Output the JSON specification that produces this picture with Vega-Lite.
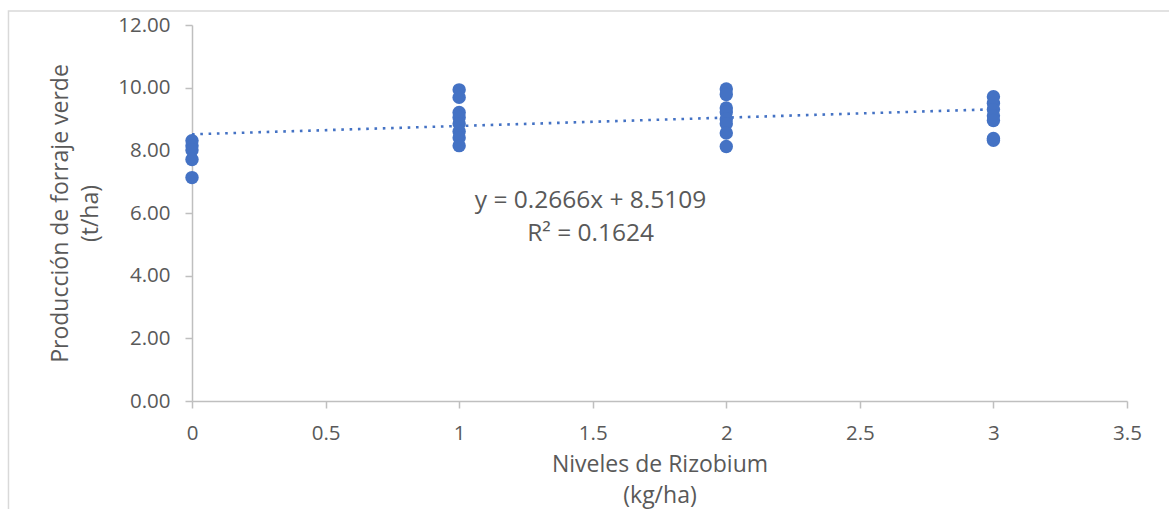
{
  "$schema": "https://vega.github.io/schema/vega-lite/v6.json",
  "width": 935,
  "height": 376,
  "autosize": "none",
  "padding": {"left": 192, "top": 25, "right": 42, "bottom": 108},
  "background": "white",
  "config": {"view": {"stroke": null}, "font": "Open Sans"},
  "datasets": {
    "pts": [
      {"nivel": 0, "prod": 8.31}, {"nivel": 0, "prod": 8.15}, {"nivel": 0, "prod": 8.01}, {"nivel": 0, "prod": 7.71}, {"nivel": 0, "prod": 7.13},
      {"nivel": 1, "prod": 9.93}, {"nivel": 1, "prod": 9.69}, {"nivel": 1, "prod": 9.21}, {"nivel": 1, "prod": 9.05}, {"nivel": 1, "prod": 8.85}, {"nivel": 1, "prod": 8.6}, {"nivel": 1, "prod": 8.4}, {"nivel": 1, "prod": 8.15},
      {"nivel": 2, "prod": 9.96}, {"nivel": 2, "prod": 9.78}, {"nivel": 2, "prod": 9.35}, {"nivel": 2, "prod": 9.22}, {"nivel": 2, "prod": 9.0}, {"nivel": 2, "prod": 8.85}, {"nivel": 2, "prod": 8.55}, {"nivel": 2, "prod": 8.12},
      {"nivel": 3, "prod": 9.71}, {"nivel": 3, "prod": 9.5}, {"nivel": 3, "prod": 9.3}, {"nivel": 3, "prod": 9.1}, {"nivel": 3, "prod": 8.95}, {"nivel": 3, "prod": 8.38}, {"nivel": 3, "prod": 8.32}
    ],
    "trend": [
      {"nivel": 0, "prod": 8.5109},
      {"nivel": 3, "prod": 9.3107}
    ]
  },
  "layer": [
    {
      "data": {"name": "trend"},
      "mark": {"type": "line", "color": "#4472C4", "strokeWidth": 2.6, "strokeDash": [2.6, 5.7]},
      "encoding": {
        "x": {"field": "nivel", "type": "quantitative"},
        "y": {"field": "prod", "type": "quantitative"}
      }
    },
    {
      "data": {"name": "pts"},
      "mark": {"type": "circle", "color": "#4472C4", "size": 180, "opacity": 1},
      "encoding": {
        "x": {
          "field": "nivel", "type": "quantitative",
          "scale": {"domain": [0, 3.5], "nice": false, "zero": false},
          "axis": {
            "values": [0, 0.5, 1, 1.5, 2, 2.5, 3, 3.5],
            "format": "~g",
            "grid": false, "labelFlush": false,
            "domainColor": "#bfbfbf", "domainWidth": 1.5,
            "tickColor": "#bfbfbf", "tickWidth": 1.5, "tickSize": 7,
            "labelFontSize": 20.5, "labelColor": "#595959", "labelPadding": 15,
            "title": ["Niveles de Rizobium", "(kg/ha)"],
            "titleFontSize": 23, "titleFontWeight": "normal", "titleColor": "#595959",
            "titleLineHeight": 31, "titlePadding": 10
          }
        },
        "y": {
          "field": "prod", "type": "quantitative",
          "scale": {"domain": [0, 12], "nice": false, "zero": false},
          "axis": {
            "values": [0, 2, 4, 6, 8, 10, 12],
            "format": ".2f",
            "grid": false,
            "domainColor": "#bfbfbf", "domainWidth": 1.5,
            "tickColor": "#bfbfbf", "tickWidth": 1.5, "tickSize": 7,
            "labelFontSize": 20.5, "labelColor": "#595959", "labelPadding": 15,
            "title": ["Producción de forraje verde", "(t/ha)"],
            "titleFontSize": 23, "titleFontWeight": "normal", "titleColor": "#595959",
            "titleLineHeight": 30, "titlePadding": 15
          }
        }
      }
    },
    {
      "data": {"values": [{}]},
      "mark": {
        "type": "text",
        "text": ["y = 0.2666x + 8.5109", "R² = 0.1624"],
        "fontSize": 24.5, "color": "#595959", "lineHeight": 33,
        "align": "center", "baseline": "alphabetic"
      },
      "encoding": {
        "x": {"datum": 1.492, "type": "quantitative"},
        "y": {"datum": 6.16, "type": "quantitative"}
      }
    },
    {
      "data": {"values": [{}]},
      "mark": {"type": "rect", "filled": false, "stroke": "#d9d9d9", "strokeWidth": 1.5, "clip": false},
      "encoding": {
        "x": {"datum": -0.687, "type": "quantitative"},
        "x2": {"datum": 3.7},
        "y": {"datum": 12.447, "type": "quantitative"},
        "y2": {"datum": -4}
      }
    }
  ]
}
